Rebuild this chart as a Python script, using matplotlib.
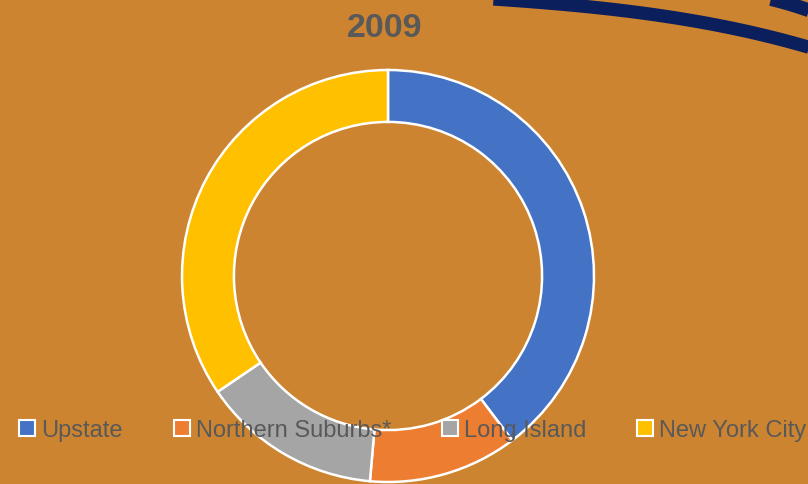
import matplotlib
matplotlib.use("Agg")
import matplotlib.pyplot as plt
from matplotlib.lines import Line2D
import numpy as np

# Data
categories = ["Upstate", "Northern Suburbs*", "Long Island", "New York City"]
values = [39.7, 11.7, 14.1, 34.5]
colors = ["#4472C4", "#ED7D31", "#A5A5A5", "#FFC000"]
title = "2009"

BG = "#CD8430"
TXT = "#595959"
W, H = 808, 485

plt.rcParams['font.family'] = ['Liberation Sans', 'DejaVu Sans']

fig = plt.figure(figsize=(W / 100, H / 100), dpi=100, facecolor=BG)

# decorative navy curves (top right)
deco = fig.add_axes([0, 0, 1, 1], facecolor="none")
deco.set_xlim(0, W)
deco.set_ylim(H, 0)
deco.axis("off")
xs = np.linspace(400, 815, 80)
u = (xs - 430) / 378
ys = -4 + 23 * u + 29 * np.clip(u, 0, None) ** 3
deco.plot(xs, ys, color="#0A1F5C", lw=9.5, solid_capstyle="butt")
xs2 = np.linspace(710, 815, 40)
u2 = (xs2 - 740) / 68
ys2 = -6 + 10 * u2 + 7 * np.clip(u2, 0, None) ** 2
deco.plot(xs2, ys2, color="#0A1F5C", lw=10, solid_capstyle="butt")

# donut
cx, cy, r = 388, 277, 206
ax = fig.add_axes([(cx - r) / W, (H - cy - r) / H, 2 * r / W, 2 * r / H])
ax.pie(values, colors=colors, startangle=90, counterclock=False,
       radius=1.0,
       wedgeprops=dict(width=0.252, edgecolor="white", linewidth=1.8))
ax.set_xlim(-1, 1)
ax.set_ylim(-1, 1)
ax.set_aspect("equal")
ax.axis("off")

fig.text(385 / W, 1 - 37 / H, title, ha="center", va="baseline",
         fontsize=24.5, fontweight="bold", color=TXT)

handles = [Line2D([], [], linestyle="none", marker="s", markersize=12,
                  markerfacecolor=c, markeredgecolor="white", markeredgewidth=1.5)
           for c in colors]
leg = fig.legend(handles, categories, loc="center", ncol=4,
                 bbox_to_anchor=(412 / W, 1 - 431 / H), frameon=False,
                 fontsize=17, handlelength=0.8, handleheight=0.8,
                 handletextpad=0.2, columnspacing=2.08, borderpad=0.2)
for txt in leg.get_texts():
    txt.set_color(TXT)

fig.savefig("out.png", dpi=100, facecolor=BG)
